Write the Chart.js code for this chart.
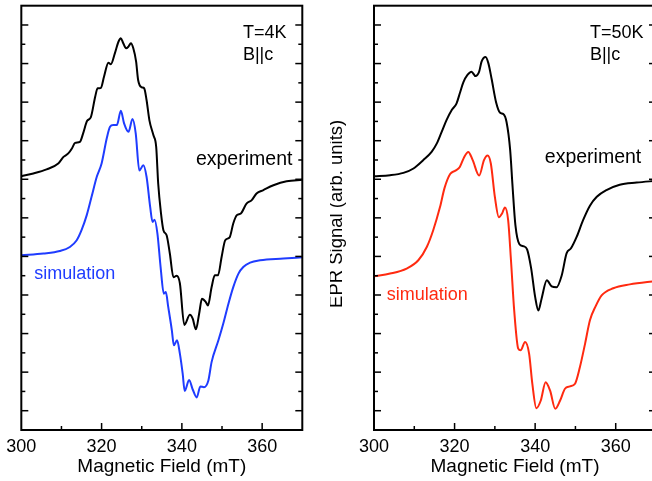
<!doctype html>
<html>
<head>
<meta charset="utf-8" />
<title>EPR spectra</title>
<script src="https://cdn.jsdelivr.net/npm/chart.js@4.4.0/dist/chart.umd.min.js"></script>
<style>
html, body { margin:0; padding:0; overflow:hidden; background:#fff; }
#wrap { position:relative; width:652px; height:481px; overflow:hidden; }
#c1 { position:absolute; left:0; top:0; }
#c2 { position:absolute; left:330px; top:0; }
</style>
</head>
<body>
<div id="wrap">
  <canvas id="c1" width="330" height="481"></canvas>
  <canvas id="c2" width="340" height="481"></canvas>
</div>
<script>
// field in mT, signal in arb. units (0..22 = frame height)
var fieldExp4K = [300.0, 303.0, 306.3, 309.2, 310.5, 311.7, 312.6, 313.4, 314.6, 315.4, 316.4, 317.3, 318.4, 319.0, 319.8, 320.6, 321.7, 322.3, 323.3, 324.2, 324.8, 325.4, 326.1, 326.7, 327.3, 327.9, 328.6, 329.1, 330.0, 330.6, 331.2, 331.9, 332.9, 333.6, 334.1, 334.8, 335.4, 336.2, 337.0, 337.9, 338.7, 339.5, 340.6, 342.0, 342.7, 343.5, 344.3, 345.0, 346.0, 346.5, 347.4, 348.2, 349.0, 349.9, 350.8, 351.9, 352.8, 353.7, 354.7, 356.1, 357.4, 358.6, 360.3, 362.8, 366.1, 370.0];
var signalExp4K = [13.16, 13.30, 13.51, 13.82, 14.16, 14.34, 14.60, 14.89, 14.94, 15.38, 16.03, 16.21, 17.28, 17.72, 17.73, 18.32, 19.04, 18.96, 19.53, 20.13, 20.31, 20.05, 19.79, 19.88, 20.05, 19.79, 19.10, 18.15, 17.77, 17.72, 17.11, 16.07, 15.29, 14.68, 12.78, 11.23, 10.36, 10.10, 9.15, 7.92, 8.00, 7.61, 5.45, 5.97, 5.77, 5.22, 6.03, 6.80, 6.62, 6.46, 7.40, 8.02, 8.02, 8.97, 9.84, 9.99, 10.71, 11.14, 11.23, 11.74, 11.92, 12.26, 12.44, 12.69, 12.90, 12.97];

var fieldSim4K = [300.0, 305.5, 309.6, 312.1, 313.8, 315.0, 316.3, 317.5, 318.8, 320.0, 321.3, 322.1, 322.9, 323.8, 324.8, 325.6, 326.7, 327.7, 328.5, 329.4, 330.4, 331.2, 332.1, 332.7, 333.2, 333.9, 334.7, 335.5, 336.0, 336.6, 337.5, 338.0, 338.8, 339.5, 340.2, 340.7, 341.8, 342.7, 343.7, 344.6, 345.5, 346.6, 347.4, 349.1, 350.3, 351.6, 352.8, 354.1, 355.3, 357.0, 359.5, 365.3, 370.0];
var signalSim4K = [9.06, 9.15, 9.28, 9.49, 9.84, 10.36, 11.14, 12.09, 13.13, 13.82, 15.14, 15.72, 15.81, 15.81, 16.55, 15.90, 15.46, 16.12, 15.38, 13.45, 13.73, 13.13, 11.57, 10.79, 10.90, 10.19, 8.45, 7.07, 7.15, 6.38, 5.17, 4.39, 4.65, 3.96, 2.92, 2.02, 2.59, 2.10, 1.69, 2.26, 2.22, 2.57, 3.52, 4.65, 5.51, 6.55, 7.41, 8.11, 8.45, 8.68, 8.80, 8.89, 8.96];

var fieldExp50K = [300.0, 304.0, 307.3, 309.8, 312.2, 314.3, 315.6, 316.8, 318.0, 319.3, 320.5, 321.3, 322.2, 323.2, 324.2, 325.2, 326.1, 326.7, 327.7, 328.4, 329.2, 330.3, 331.3, 332.1, 332.9, 333.8, 334.4, 335.1, 336.1, 337.1, 338.0, 339.0, 340.0, 340.8, 341.6, 342.9, 344.1, 345.3, 346.6, 347.8, 348.9, 350.3, 351.9, 353.6, 355.3, 357.7, 361.0, 365.2, 370.0];
var signalExp50K = [13.16, 13.21, 13.33, 13.56, 13.99, 14.42, 14.86, 15.46, 16.07, 16.59, 16.94, 17.46, 18.04, 18.41, 18.58, 18.35, 18.58, 19.10, 19.34, 19.01, 18.20, 17.00, 16.45, 16.38, 15.97, 14.51, 12.61, 10.62, 9.63, 9.53, 9.37, 8.39, 6.90, 6.20, 6.81, 7.76, 7.45, 7.40, 8.02, 9.16, 9.42, 10.01, 10.88, 11.63, 12.09, 12.44, 12.72, 12.83, 12.92];

var fieldSim50K = [300.0, 304.0, 308.1, 311.0, 313.1, 314.7, 316.4, 317.5, 318.9, 320.2, 321.3, 322.4, 323.4, 324.5, 326.1, 327.3, 328.2, 329.0, 330.0, 331.0, 331.8, 332.5, 333.3, 334.0, 334.8, 335.8, 336.4, 337.5, 338.5, 339.3, 340.3, 341.4, 342.6, 343.7, 345.0, 346.2, 347.4, 348.6, 349.9, 351.1, 352.4, 353.6, 355.0, 356.5, 359.4, 363.5, 370.0];
var signalSim50K = [7.97, 8.11, 8.37, 8.80, 9.49, 10.36, 11.57, 12.54, 13.27, 13.45, 13.64, 14.16, 14.42, 13.99, 13.19, 13.99, 14.23, 13.82, 12.09, 11.03, 11.23, 11.54, 10.88, 8.80, 6.20, 4.22, 4.13, 4.56, 3.96, 2.40, 1.13, 1.53, 2.48, 2.05, 1.10, 1.53, 2.14, 2.26, 2.40, 3.25, 4.48, 5.69, 6.41, 6.98, 7.35, 7.55, 7.73];

var xTickLabels = [300, 320, 340, 360];
var FONT = '"Liberation Sans", Arial, sans-serif';

function pairs(xs, ys) {
  return xs.map(function(x, i) { return {x: x, y: ys[i]}; });
}

// frame, inward ticks and text notes
var framePlugin = {
  id: 'frame',
  afterDatasetsDraw: function(chart, args, opts) {
    var ctx = chart.ctx, a = chart.chartArea;
    var xs = chart.scales.x, ys = chart.scales.y;
    function seg(x1, y1, x2, y2) { ctx.beginPath(); ctx.moveTo(x1, y1); ctx.lineTo(x2, y2); ctx.stroke(); }
    ctx.save();
    ctx.strokeStyle = '#000';
    ctx.lineWidth = 1.5;
    for (var v = 1; v < 22; v++) {
      var py = ys.getPixelForValue(v);
      var len = (v % 2) ? 7 : 4;
      seg(a.left, py, a.left + len, py);
      seg(a.right - len, py, a.right, py);
    }
    for (var f = 310; f < 370; f += 10) {
      var px = xs.getPixelForValue(f);
      seg(px, a.bottom, px, a.bottom - ((f % 20) ? 4 : 7));
    }
    ctx.lineWidth = 2;
    ctx.strokeRect(a.left, a.top, a.right - a.left, a.bottom - a.top);

    ctx.textAlign = 'left';
    ctx.textBaseline = 'middle';
    (opts.notes || []).forEach(function(n) {
      ctx.font = (n.size || 18) + 'px ' + FONT;
      ctx.fillStyle = n.color;
      ctx.fillText(n.text, xs.getPixelForValue(n.x), ys.getPixelForValue(n.y));
    });
    if (opts.yTitle) {
      ctx.font = '18.5px ' + FONT;
      ctx.translate(a.left - 37, (a.top + a.bottom) / 2 - 4);
      ctx.rotate(-Math.PI / 2);
      ctx.textAlign = 'center';
      ctx.fillStyle = '#000';
      ctx.fillText(opts.yTitle, 0, 0);
    }
    ctx.restore();
  }
};

function makeChart(id, pad, exp, sim, simColor, notes, yTitle) {
  return new Chart(document.getElementById(id), {
    type: 'line',
    data: {
      datasets: [
        { data: exp, borderColor: '#000', borderWidth: 2, pointRadius: 0, fill: false, cubicInterpolationMode: 'monotone' },
        { data: sim, borderColor: simColor, borderWidth: 2, pointRadius: 0, fill: false, cubicInterpolationMode: 'monotone' }
      ]
    },
    options: {
      responsive: false,
      animation: false,
      events: [],
      layout: { padding: pad },
      plugins: {
        legend: { display: false },
        tooltip: { enabled: false },
        frame: { notes: notes, yTitle: yTitle }
      },
      scales: {
        x: {
          type: 'linear', min: 300, max: 370,
          grid: { display: false, drawTicks: false },
          border: { display: false },
          afterBuildTicks: function(s) { s.ticks = xTickLabels.map(function(v) { return {value: v}; }); },
          afterFit: function(s) { s.height = 51; },
          ticks: { padding: 6.3, color: '#000', font: { size: 18, family: FONT }, autoSkip: false, maxRotation: 0 },
          title: { display: true, text: 'Magnetic Field (mT)', color: '#000', font: { size: 19, family: FONT }, padding: { top: 0, bottom: 3 } }
        },
        y: { type: 'linear', min: 0, max: 22, display: false }
      }
    },
    plugins: [framePlugin]
  });
}

makeChart('c1', {left: 21.3, right: 27.7, top: 5.7, bottom: 0},
  pairs(fieldExp4K, signalExp4K), pairs(fieldSim4K, signalSim4K), '#1f3cff',
  [{text: 'T=4K', x: 355.2, y: 20.6, color: '#000'},
   {text: 'B||c', x: 355.2, y: 19.44, color: '#000'},
   {text: 'experiment', x: 343.5, y: 14.04, color: '#000', size: 19.5},
   {text: 'simulation', x: 303.2, y: 8.1, color: '#1f3cff'}], null);

makeChart('c2', {left: 44, right: 14, top: 5.7, bottom: 0},
  pairs(fieldExp50K, signalExp50K), pairs(fieldSim50K, signalSim50K), '#ff2a10',
  [{text: 'T=50K', x: 353.6, y: 20.6, color: '#000'},
   {text: 'B||c', x: 353.6, y: 19.44, color: '#000'},
   {text: 'experiment', x: 342.4, y: 14.1, color: '#000', size: 19.5},
   {text: 'simulation', x: 303.15, y: 6.98, color: '#ff2a10'}], 'EPR Signal (arb. units)');
</script>
</body>
</html>
